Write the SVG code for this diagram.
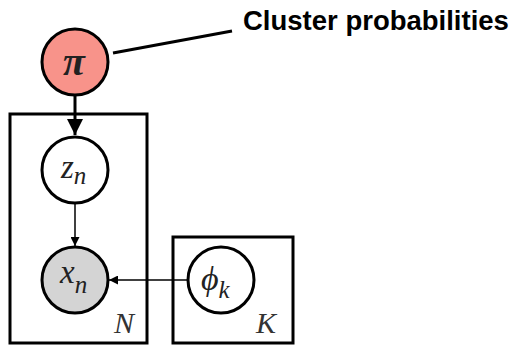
<svg xmlns="http://www.w3.org/2000/svg" width="510" height="346" viewBox="0 0 510 346">
<style>
.node{stroke:#000;stroke-width:3;}
.plate{fill:none;stroke:#000;stroke-width:3;}
.m{font-family:"Liberation Serif","DejaVu Serif",serif;font-style:italic;fill:#222;}
.lab{font-family:"Liberation Serif","DejaVu Serif",serif;font-style:italic;font-size:30px;fill:#333;}
.edge{stroke:#000;fill:none;}
</style>
<defs>
<marker id="big" viewBox="0 0 10 10" refX="10" refY="5" markerWidth="5.5" markerHeight="5.5" markerUnits="strokeWidth" orient="auto">
<path d="M0,0 L10,5 L0,10 Z" fill="#000"/>
</marker>
<marker id="small" viewBox="0 0 10 10" refX="10" refY="5" markerWidth="6" markerHeight="6" markerUnits="strokeWidth" orient="auto">
<path d="M0,0 L10,5 L0,10 Z" fill="#000"/>
</marker>
</defs>
<g id="plate-N"><rect class="plate" x="10" y="114" width="137" height="229"/><text class="lab" x="114" y="333">N</text></g>
<g id="plate-K"><rect class="plate" x="173" y="237" width="120" height="106"/><text class="lab" x="256" y="333">K</text></g>
<g id="connectors">
<line class="edge" x1="75" y1="95" x2="75" y2="135" stroke-width="3" marker-end="url(#big)"/>
<line class="edge" x1="75" y1="203" x2="75" y2="246" stroke-width="1.5" marker-end="url(#small)"/>
<line class="edge" x1="188" y1="280" x2="109" y2="280" stroke-width="1.5" marker-end="url(#small)"/>
<line class="edge" x1="113" y1="53" x2="232" y2="31" stroke-width="3"/>
</g>
<g id="node-pi"><circle class="node" cx="75" cy="62" r="33" fill="#f8938a"/><text class="m" x="74" y="75" font-size="40" font-weight="bold" text-anchor="middle">π</text></g>
<g id="node-z"><circle class="node" cx="75" cy="170" r="33" fill="#fff"/><text class="m" x="61" y="178" font-size="33">z<tspan font-size="25" dy="6">n</tspan></text></g>
<g id="node-x"><circle class="node" cx="75" cy="280" r="33" fill="#d4d4d4"/><text class="m" x="60" y="283" font-size="33">x<tspan font-size="25" dy="10">n</tspan></text></g>
<g id="node-phi"><circle class="node" cx="221" cy="280" r="33" fill="#fff"/><text class="m" x="201" y="290" font-size="34">ϕ<tspan font-size="25" dy="8">k</tspan></text></g>
<g id="label"><text x="243" y="30" font-family="'Liberation Sans',Arial,sans-serif" font-weight="bold" font-size="27.5" fill="#000">Cluster probabilities</text></g>
</svg>
